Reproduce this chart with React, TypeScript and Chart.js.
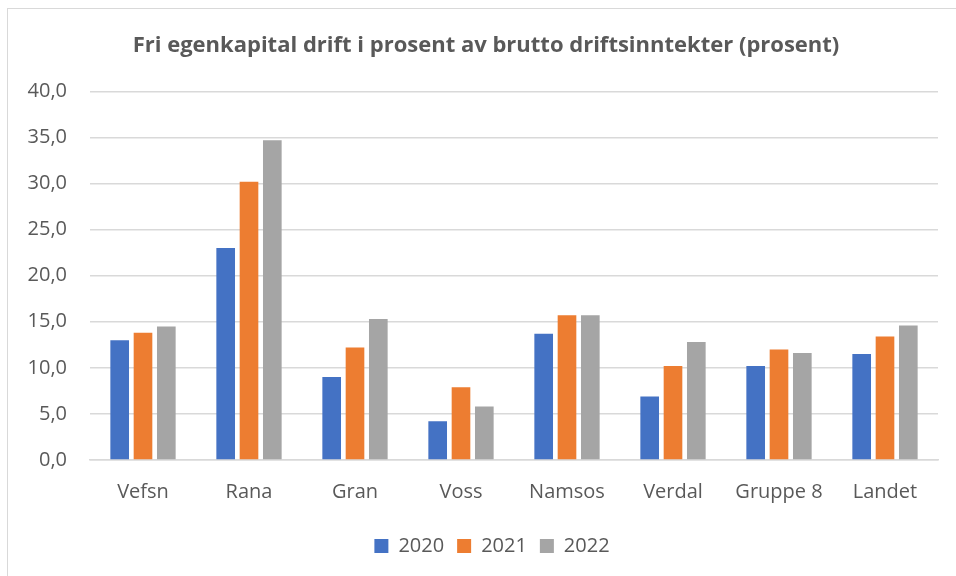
import React, { useEffect, useRef } from "react";
import { Chart, registerables } from "chart.js";

Chart.register(...registerables);

const categories = ["Vefsn", "Rana", "Gran", "Voss", "Namsos", "Verdal", "Gruppe 8", "Landet"];
const seriesLabels = ["2020", "2021", "2022"];
const values2020 = [13.0, 23.0, 9.0, 4.2, 13.7, 6.9, 10.2, 11.5];
const values2021 = [13.8, 30.2, 12.2, 7.9, 15.7, 10.2, 12.0, 13.4];
const values2022 = [14.5, 34.7, 15.3, 5.8, 15.7, 12.8, 11.6, 14.6];
const seriesColors = ["#4472C4", "#ED7D31", "#A5A5A5"];
const yMin = 0;
const yMax = 40;
const yStep = 5;
const titleText = "Fri egenkapital drift i prosent av brutto driftsinntekter (prosent)";

const FONT = "'Open Sans', 'Liberation Sans', sans-serif";
const TEXT_COLOR = "#595959";
const GRID_COLOR = "#D9D9D9";

// Shift the title and legend horizontally (the original centres them over the frame, not the canvas).
const shiftBoxesPlugin = {
  id: "shiftBoxes",
  afterLayout(chart: any) {
    const l = chart.legend;
    if (l) { l.left += 23; l.right += 23; }
    const t = chart.titleBlock;
    if (t) { t.left += 17; t.right += 17; }
  },
};

export default function App() {
  const canvasRef = useRef<HTMLCanvasElement | null>(null);

  useEffect(() => {
    const canvas = canvasRef.current;
    if (!canvas) return;
    const seriesValues = [values2020, values2021, values2022];
    const chart = new Chart(canvas, {
      type: "bar",
      data: {
        labels: categories,
        datasets: seriesLabels.map((label, i) => ({
          label,
          data: seriesValues[i],
          backgroundColor: seriesColors[i],
          borderWidth: 0,
          barPercentage: 0.8,
          categoryPercentage: 0.66,
        })),
      },
      plugins: [shiftBoxesPlugin],
      options: {
        responsive: false,
        devicePixelRatio: 1,
        animation: false,
        layout: { padding: { left: 0, right: 18, top: 0, bottom: 10 } },
        plugins: {
          title: {
            display: true,
            text: titleText,
            color: TEXT_COLOR,
            font: { family: FONT, size: 22, weight: "bold" },
            padding: { top: 33, bottom: 32 },
          },
          legend: {
            position: "bottom",
            labels: {
              color: TEXT_COLOR,
              font: { family: FONT, size: 20 },
              boxWidth: 14,
              boxHeight: 14,
              padding: 13,
            },
          },
          tooltip: { enabled: false },
        },
        scales: {
          x: {
            grid: { display: false, drawTicks: false },
            border: { display: true, color: GRID_COLOR, width: 1.5 },
            ticks: { color: TEXT_COLOR, font: { family: FONT, size: 20 }, padding: 20, maxRotation: 0 },
            afterFit: (s: any) => { s.height = 63; },
          },
          y: {
            min: yMin,
            max: yMax,
            grid: { color: GRID_COLOR, lineWidth: 1.5, drawTicks: false },
            border: { display: false },
            ticks: {
              stepSize: yStep,
              color: TEXT_COLOR,
              font: { family: FONT, size: 20 },
              padding: 23,
              callback: (v: any) => Number(v).toFixed(1).replace(".", ","),
            },
            afterFit: (s: any) => { s.width = 90; },
          },
        },
      },
    });
    return () => chart.destroy();
  }, []);

  return (
    <div style={{ position: "fixed", left: 0, top: 0, width: 956, height: 576, overflow: "hidden", background: "#fff" }}>
      <div style={{ position: "absolute", left: 7, top: 8, width: 1000, height: 1000, border: "1px solid #D9D9D9" }} />
      <canvas ref={canvasRef} width={956} height={576} style={{ position: "absolute", left: 0, top: 0, width: 956, height: 576 }} />
    </div>
  );
}
